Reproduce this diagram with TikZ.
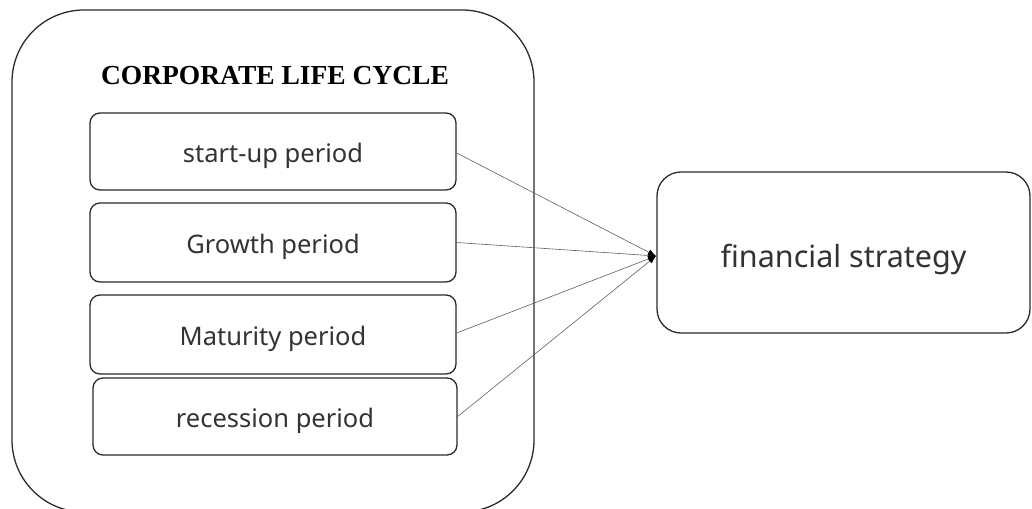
\documentclass[tikz,border=0pt]{standalone}
\usepackage{fontspec}
\setmainfont{Liberation Serif}
\newfontfamily\boxfont{Noto Sans}
\usetikzlibrary{arrows.meta}
\definecolor{ink}{HTML}{2A2A2A}
\definecolor{txt}{HTML}{333333}
\tikzset{
  outerbox/.style={draw=ink, line width=1.3pt, rounded corners=72pt, inner sep=0pt},
  stagebox/.style={draw=ink, line width=1.3pt, rounded corners=10pt, inner sep=0pt,
    font=\boxfont\fontsize{25.5}{30}\selectfont, text=txt, text height=21pt, text depth=0pt},
  goalbox/.style={draw=ink, line width=1.3pt, rounded corners=24pt, inner sep=0pt,
    font=\boxfont\fontsize{30.5}{36}\selectfont, text=txt, text height=29pt, text depth=0pt},
  link/.style={draw=ink!75, line width=0.6pt, -{Latex[length=8pt,width=6pt,color=black]}},
  titletext/.style={font=\fontsize{27.5}{32}\selectfont\bfseries, text=black}
}
\begin{document}
\begin{tikzpicture}[x=1pt,y=-1pt]
\useasboundingbox (0,0) rectangle (1032,508);
\node[outerbox, minimum width=522pt, minimum height=502pt] (outer) at (273,261) {};
\node[titletext] (title) at (275,76) {CORPORATE LIFE CYCLE};
\node[stagebox, minimum width=366pt, minimum height=77pt] (s1) at (273,151.5) {start-up period};
\node[stagebox, minimum width=366pt, minimum height=79pt] (s2) at (273,242.5) {Growth period};
\node[stagebox, minimum width=366pt, minimum height=79pt] (s3) at (273,334.5) {Maturity period};
\node[stagebox, minimum width=364pt, minimum height=77pt] (s4) at (275,416.5) {recession period};
\node[goalbox, minimum width=373pt, minimum height=161pt] (fs) at (843.5,252.5) {financial strategy};
\coordinate (hub) at (656,256);
\draw[link] (s1.east |- 0,153) -- (hub);
\draw[link] (s2.east) -- (hub);
\draw[link] (s3.east |- 0,333) -- (hub);
\draw[link] (s4.east) -- (hub);
\end{tikzpicture}
\end{document}
